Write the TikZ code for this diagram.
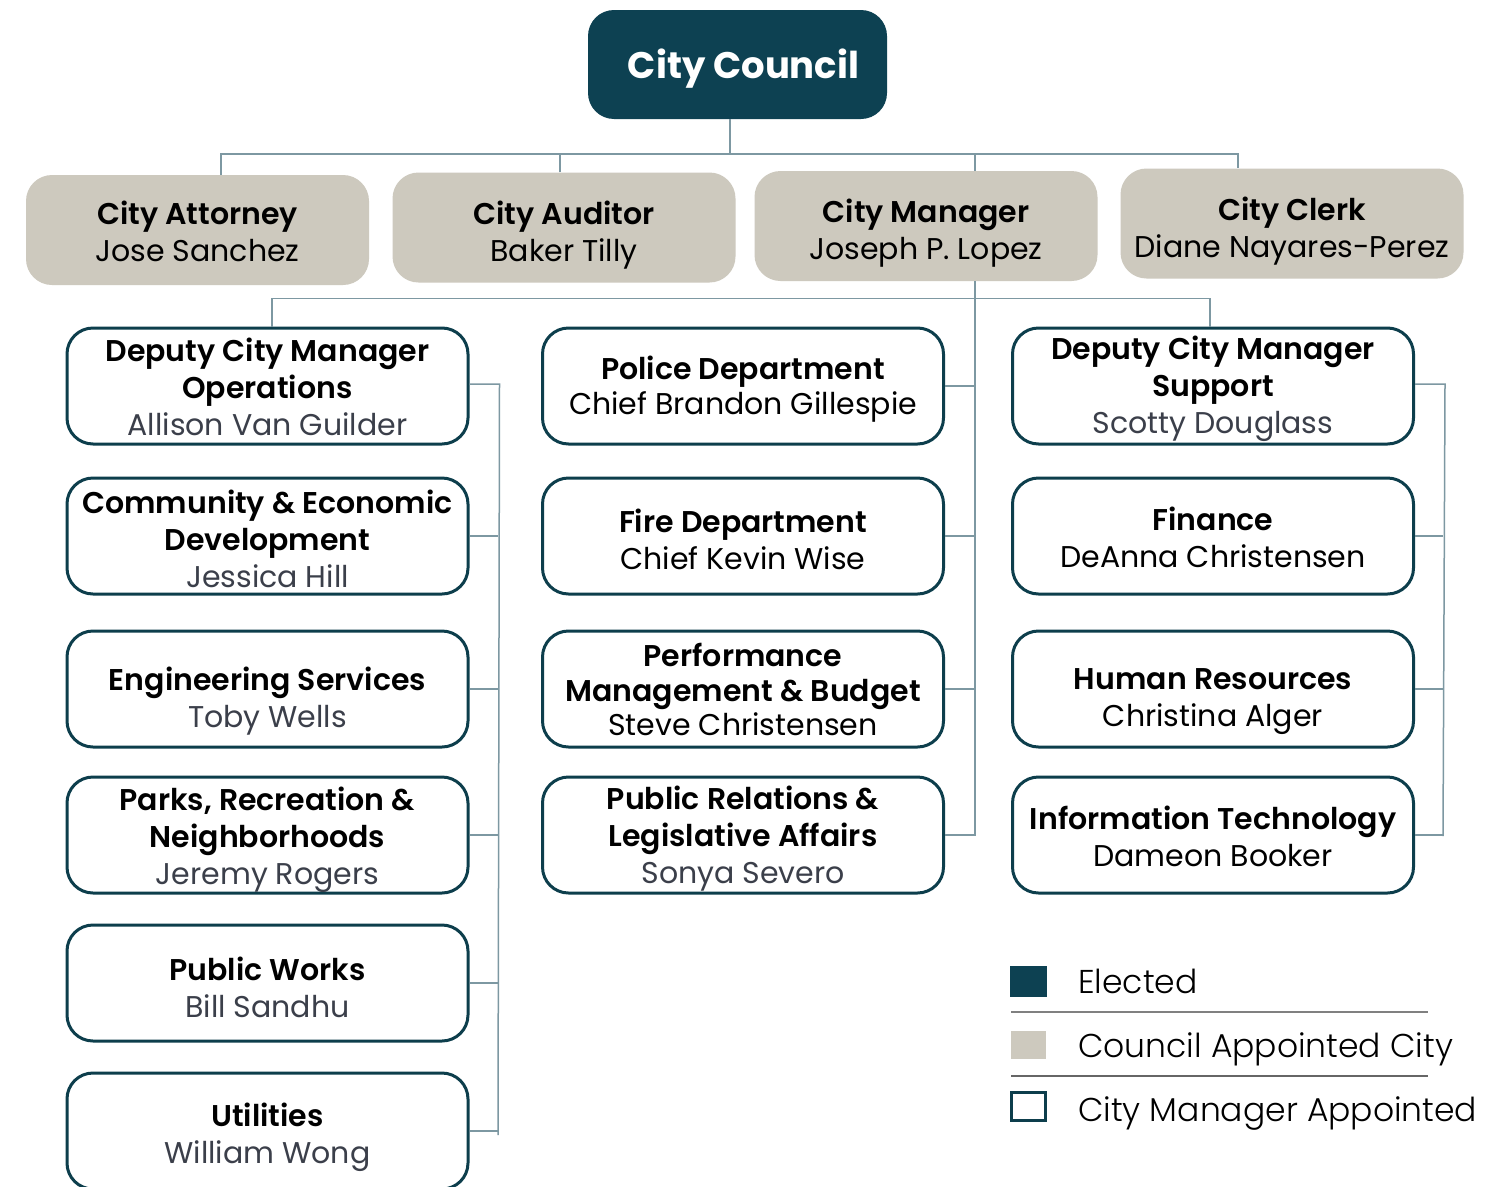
\documentclass[tikz,border=0pt]{standalone}
\usepackage{fontspec}
\setmainfont{Poppins}[BoldFont={Poppins SemiBold}]
\newfontfamily\legendfont{Poppins Light}
\newfontfamily\heavyfont{Poppins Bold}
\definecolor{elected}{HTML}{0D4152}
\definecolor{cagray}{HTML}{CDC9BE}
\definecolor{cmteal}{HTML}{0D3E4C}
\definecolor{conncol}{HTML}{7D98A2}
\definecolor{namegray}{HTML}{3B3F4A}
\newcommand{\gn}[1]{\textcolor{namegray}{#1}}
\tikzset{
  cmbox/.style={draw=cmteal, line width=3pt, rounded corners=26pt, fill=white,
    minimum width=401pt, minimum height=116pt, inner sep=0pt},
  cabox/.style={fill=cagray, rounded corners=26pt, minimum width=343pt,
    minimum height=110pt, inner sep=0pt},
  elbox/.style={fill=elected, rounded corners=26pt, minimum width=299pt,
    minimum height=109pt, inner sep=0pt},
  boxtext/.style={align=center, inner sep=0pt, font=\fontsize{30}{37}\selectfont},
  eltext/.style={inner sep=0pt, text=white, font=\heavyfont\fontsize{37}{44}\selectfont},
  conn/.style={draw=conncol, line width=1.5pt},
  legtext/.style={anchor=base west, inner sep=0pt, font=\legendfont\fontsize{33}{38}\selectfont},
}
% box with text: style, name, x, y, text shift, text
\newcommand{\orgbox}[6]{%
  \node[#1] (#2) at (#3,#4) {};
  \node[boxtext] (#2t) at ([yshift=#5pt]#2.center) {#6};}
\begin{document}
\begin{tikzpicture}[x=1pt,y=-1pt]
\clip (0,0) rectangle (1509,1186);
\fill[white] (0,0) rectangle (1509,1186);

% Elected
\node[elbox] (council) at (737.5,64.5) {};
\node[eltext] (councilt) at ([xshift=6pt,yshift=-4pt]council.center) {City Council};

% Council appointed
\orgbox{cabox}{att}{197.5}{230}{-1}{\textbf{City Attorney}\\Jose Sanchez}
\orgbox{cabox}{aud}{564}{227.5}{-8}{\textbf{City Auditor}\\Baker Tilly}
\orgbox{cabox}{mgr}{926}{226}{-7}{\textbf{City Manager}\\Joseph P. Lopez}
\orgbox{cabox}{clerk}{1292}{223.5}{-8}{\textbf{City Clerk}\\Diane Nayares-Perez}

% Left column
\orgbox{cmbox}{l1}{267.5}{386}{-1}{\textbf{Deputy City Manager}\\\textbf{Operations}\\\gn{Allison Van Guilder}}
\orgbox{cmbox}{l2}{267.5}{536}{-3}{\textbf{Community \& Economic}\\\textbf{Development}\\\gn{Jessica Hill}}
\orgbox{cmbox}{l3}{267.5}{689}{-12}{\textbf{Engineering Services}\\\gn{Toby Wells}}
\orgbox{cmbox}{l4}{267.5}{835}{-5}{\textbf{Parks, Recreation \&}\\\textbf{Neighborhoods}\\\gn{Jeremy Rogers}}
\orgbox{cmbox}{l5}{267.5}{983}{-4}{\textbf{Public Works}\\\gn{Bill Sandhu}}
\orgbox{cmbox}{l6}{267.5}{1131}{-6}{\textbf{Utilities}\\\gn{William Wong}}

% Middle column
\orgbox{cmbox}{m1}{743}{386}{-3}{\textbf{Police Department}\\[-2pt]Chief Brandon Gillespie}
\orgbox{cmbox}{m2}{743}{536}{-3}{\textbf{Fire Department}\\Chief Kevin Wise}
\orgbox{cmbox}{m3}{743}{689}{0}{\textbf{Performance}\\[-2pt]\textbf{Management \& Budget}\\[-3pt]Steve Christensen}
\orgbox{cmbox}{m4}{743}{835}{-4}{\textbf{Public Relations \&}\\\textbf{Legislative Affairs}\\\gn{Sonya Severo}}

% Right column
\orgbox{cmbox}{r1}{1213}{386}{-3}{\textbf{Deputy City Manager}\\\textbf{Support}\\\gn{Scotty Douglass}}
\orgbox{cmbox}{r2}{1213}{536}{-1}{\textbf{Finance}\\DeAnna Christensen}
\orgbox{cmbox}{r3}{1213}{689}{-13}{\textbf{Human Resources}\\Christina Alger}
\orgbox{cmbox}{r4}{1213}{835}{-1}{\textbf{Information Technology}\\Dameon Booker}

% Connectors: council to appointed
\coordinate (busC) at (730,154);
\draw[conn] ([xshift=-7.5pt]council.south) -- (busC);
\draw[conn] ([xshift=23.5pt]att.north) -- ++(0,-21) -| ([xshift=-54pt]clerk.north);
\draw[conn] ([xshift=-4pt]aud.north) -- ++(0,-19);
\draw[conn] ([xshift=49pt]mgr.north) -- ++(0,-17);

% City manager spine
\coordinate (spM) at (975,836);
\draw[conn] ([xshift=49pt]mgr.south) -- (spM);
\draw[conn] ([xshift=4.5pt]l1.north) -- ++(0,-28) -| ([xshift=-3pt]r1.north);

% Left bracket
\coordinate (spL) at (498,1135);
\draw[conn] ([yshift=2pt]l1.east) -- ++(30,0) -- (spL);
\foreach \n in {l2,l3,l4,l5,l6} \draw[conn] (\n.east) -- (\n.east -| spL);
% Middle
\foreach \n in {m1,m2,m3,m4} \draw[conn] (\n.east) -- (\n.east -| spM);
% Right bracket
\coordinate (spR) at (1443,836);
\draw[conn] ([yshift=2pt]r1.east) -- ++(30,0) -- (spR);
\foreach \n in {r2,r3,r4} \draw[conn] (\n.east) -- (\n.east -| spR);

% Legend
\node[fill=elected, minimum width=37pt, minimum height=31pt, inner sep=0pt] (lg1) at (1028.5,981.5) {};
\node[fill=cagray, minimum width=35pt, minimum height=28pt, inner sep=0pt] (lg2) at (1028.5,1044.5) {};
\node[draw=cmteal, line width=2.5pt, minimum width=34pt, minimum height=28pt, inner sep=0pt] (lg3) at (1028.5,1106.5) {};
\node[legtext] (lt1) at (1078,993) {Elected};
\node[legtext] (lt2) at (1078,1057) {Council Appointed City};
\node[legtext] (lt3) at (1078,1121) {City Manager Appointed};
\coordinate (ls1a) at (1011,1012); \coordinate (ls1b) at (1428,1012);
\coordinate (ls2a) at (1011,1076); \coordinate (ls2b) at (1428,1076);
\draw[draw=gray, line width=1.2pt] (ls1a) -- (ls1b);
\draw[draw=gray!80!black, line width=1.2pt] (ls2a) -- (ls2b);
\end{tikzpicture}
\end{document}
